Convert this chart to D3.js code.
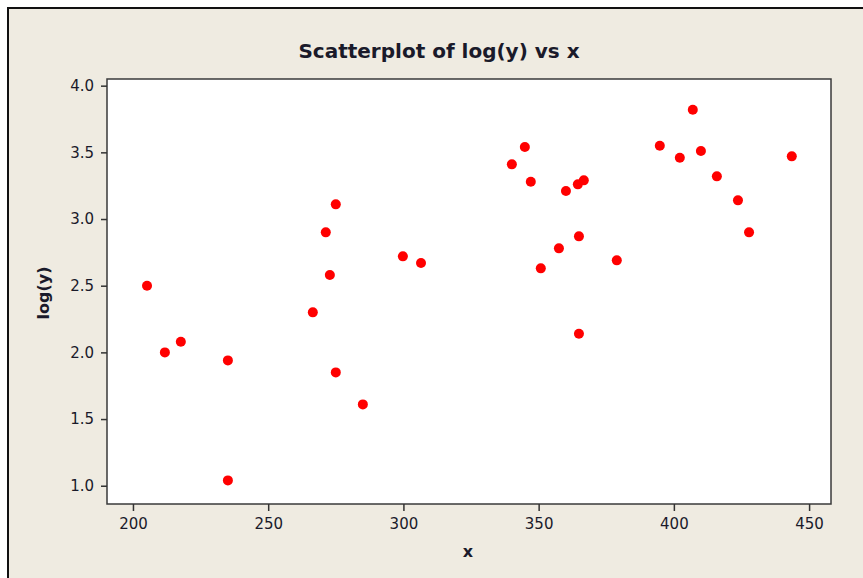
<!DOCTYPE html>
<html>
<head>
<meta charset="utf-8">
<script src="https://cdn.jsdelivr.net/npm/d3@7"></script>
<style>
  body { margin: 0; background: #fff; }
  text { font-family: "DejaVu Sans", sans-serif; fill: #1a1a2a; }
</style>
</head>
<body>
<svg id="chart" width="863" height="578"></svg>
<script>
// values
const xValues = [205.2, 211.8, 217.7, 235.1, 235.1, 266.5, 271.3, 272.8, 275.0, 275.0,
                 285.0, 299.8, 306.5, 340.1, 344.9, 347.1, 350.8, 357.5, 360.1, 364.5,
                 366.7, 364.9, 364.9, 378.9, 394.8, 402.2, 407.0, 410.0, 415.9, 423.7,
                 427.8, 443.6];
const yValues = [2.50, 2.00, 2.08, 1.94, 1.04, 2.30, 2.90, 2.58, 3.11, 1.85,
                 1.61, 2.72, 2.67, 3.41, 3.54, 3.28, 2.63, 2.78, 3.21, 3.26,
                 3.29, 2.87, 2.14, 2.69, 3.55, 3.46, 3.82, 3.51, 3.32, 3.14,
                 2.90, 3.47];
const xTicks = [200, 250, 300, 350, 400, 450];
const yTicks = [1.0, 1.5, 2.0, 2.5, 3.0, 3.5, 4.0];

const svg = d3.select('#chart');

// beige frame with a black edge
svg.append('rect')
    .attr('x', 8).attr('y', 8)
    .attr('width', 870).attr('height', 590)
    .attr('fill', '#efebe1')
    .attr('stroke', '#111')
    .attr('stroke-width', 2);

const plot = { left: 107, top: 79, right: 831, bottom: 504 };

const x = d3.scaleLinear().domain([190.4, 458.1]).range([plot.left, plot.right]);
const y = d3.scaleLinear().domain([0.863, 4.05]).range([plot.bottom, plot.top]);

svg.append('rect')
    .attr('x', plot.left).attr('y', plot.top)
    .attr('width', plot.right - plot.left)
    .attr('height', plot.bottom - plot.top)
    .attr('fill', '#fff')
    .attr('stroke', '#3a3a3a')
    .attr('stroke-width', 1.5);

const xAxis = svg.append('g')
    .attr('transform', `translate(0, ${plot.bottom})`)
    .call(d3.axisBottom(x).tickValues(xTicks).tickSize(7).tickPadding(7).tickFormat(d3.format('d')));
const yAxis = svg.append('g')
    .attr('transform', `translate(${plot.left}, 0)`)
    .call(d3.axisLeft(y).tickValues(yTicks).tickSize(6).tickPadding(7).tickFormat(d3.format('.1f')));

[xAxis, yAxis].forEach(function(a) {
    a.select('.domain').remove();
    a.selectAll('.tick line').attr('stroke', '#333').attr('stroke-width', 1.5);
    a.selectAll('.tick text')
        .attr('font-family', '"DejaVu Sans", sans-serif')
        .attr('font-size', 15)
        .attr('fill', '#1a1a2a');
});

svg.append('g').selectAll('circle')
    .data(xValues)
    .enter()
    .append('circle')
        .attr('cx', function(d) { return x(d); })
        .attr('cy', function(d, i) { return y(yValues[i]); })
        .attr('r', 5)
        .attr('fill', '#ff0000');

svg.append('text')
    .attr('x', 439).attr('y', 58)
    .attr('text-anchor', 'middle')
    .attr('font-size', 20)
    .attr('font-weight', 'bold')
    .text('Scatterplot of log(y) vs x');

svg.append('text')
    .attr('x', 468).attr('y', 557)
    .attr('text-anchor', 'middle')
    .attr('font-size', 16)
    .attr('font-weight', 'bold')
    .text('x');

svg.append('text')
    .attr('transform', 'translate(49, 293) rotate(-90)')
    .attr('text-anchor', 'middle')
    .attr('font-size', 16)
    .attr('font-weight', 'bold')
    .text('log(y)');
</script>
</body>
</html>
